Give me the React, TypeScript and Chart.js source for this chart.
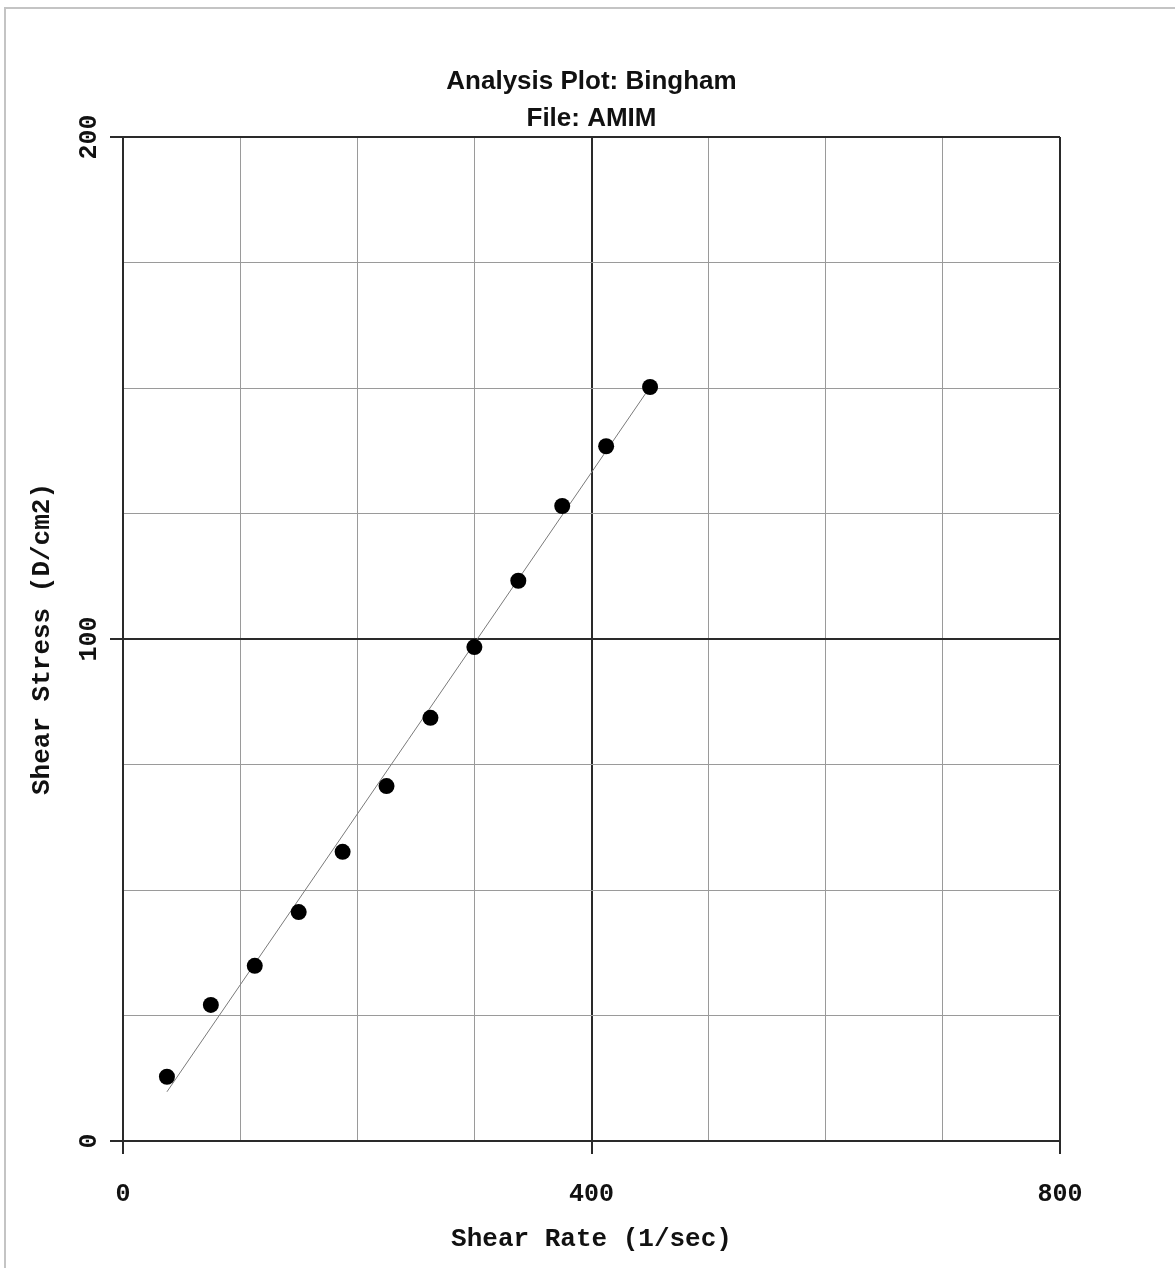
import React, { useEffect, useRef } from 'react';
import { Chart, registerables } from 'chart.js';

Chart.register(...registerables);

// ---- data ----
const shearRate = [37.5, 75, 112.5, 150, 187.5, 225, 262.5, 300, 337.5, 375, 412.5, 450];
const shearStress = [12.8, 27.1, 34.9, 45.6, 57.6, 70.7, 84.3, 98.4, 111.6, 126.5, 138.4, 150.2];
const fitRate = [37.5, 450];
const fitStress = [9.8, 150.2];
const xLabeled = [0, 400, 800];
const yLabeled = [0, 100, 200];
const titleLines = ['Analysis Plot: Bingham', 'File: AMIM'];
const xTitle = 'Shear Rate (1/sec)';
const yTitle = 'Shear Stress (D/cm2)';

const MAJOR = '#2a2a2a';
const MINOR = '#9a9a9a';
const MONO = '"Liberation Mono", "Courier New", monospace';
const SANS = '"Liberation Sans", Arial, sans-serif';

const titlePlugin = {
  id: 'fixedTitle',
  afterDraw(chart: any) {
    const { ctx, chartArea } = chart;
    ctx.save();
    ctx.fillStyle = '#111';
    ctx.font = `bold 26px ${SANS}`;
    ctx.textAlign = 'center';
    ctx.textBaseline = 'alphabetic';
    const cx = (chartArea.left + chartArea.right) / 2;
    ctx.fillText(titleLines[0], cx, 89);
    ctx.fillText(titleLines[1], cx, 126);
    ctx.restore();
  },
};

export default function App() {
  const ref = useRef<HTMLCanvasElement | null>(null);

  useEffect(() => {
    if (!ref.current) return;
    const isMajorX = (c: any) => c.tick && xLabeled.includes(c.tick.value);
    const isMajorY = (c: any) => c.tick && yLabeled.includes(c.tick.value);
    const chart = new Chart(ref.current, {
      type: 'scatter',
      data: {
        datasets: [
          {
            label: 'fit',
            data: fitRate.map((x, i) => ({ x, y: fitStress[i] })),
            showLine: true,
            borderColor: '#7a7a7a',
            borderWidth: 1,
            pointRadius: 0,
            order: 2,
          },
          {
            label: 'data',
            data: shearRate.map((x, i) => ({ x, y: shearStress[i] })),
            showLine: false,
            pointRadius: 8,
            pointBackgroundColor: '#000',
            pointBorderWidth: 0,
            order: 1,
          },
        ],
      },
      options: {
        responsive: false,
        animation: false,
        devicePixelRatio: 1,
        events: [],
        layout: { padding: { top: 137, right: 115, left: 0, bottom: 0 } },
        plugins: { legend: { display: false }, tooltip: { enabled: false }, title: { display: false } },
        scales: {
          x: {
            type: 'linear',
            min: 0,
            max: 800,
            afterFit: (s: any) => { s.height = 127; },
            ticks: {
              stepSize: 100,
              autoSkip: false,
              maxRotation: 0,
              padding: 26,
              color: '#111',
              font: { family: MONO, size: 25, weight: 'bold' },
              callback: (v: any) => (xLabeled.includes(v) ? String(v) : ''),
            },
            grid: {
              color: (c: any) => (isMajorX(c) ? MAJOR : MINOR),
              lineWidth: (c: any) => (isMajorX(c) ? 2 : 1),
              tickColor: (c: any) => (isMajorX(c) ? MAJOR : 'rgba(0,0,0,0)'),
              tickWidth: 2,
              tickLength: 13,
            },
            border: { display: true, color: MAJOR, width: 2 },
            title: {
              display: true,
              text: xTitle,
              color: '#111',
              font: { family: MONO, size: 26, weight: 'bold' },
              padding: { top: 0, bottom: 13 },
            },
          },
          y: {
            type: 'linear',
            min: 0,
            max: 200,
            afterFit: (s: any) => { s.width = 123; },
            ticks: {
              stepSize: 25,
              autoSkip: false,
              minRotation: 90,
              maxRotation: 90,
              crossAlign: 'center',
              padding: -2,
              color: '#111',
              font: { family: MONO, size: 25, weight: 'bold' },
              callback: (v: any) => (yLabeled.includes(v) ? String(v) : ''),
            },
            grid: {
              color: (c: any) => (isMajorY(c) ? MAJOR : MINOR),
              lineWidth: (c: any) => (isMajorY(c) ? 2 : 1),
              tickColor: (c: any) => (isMajorY(c) ? MAJOR : 'rgba(0,0,0,0)'),
              tickWidth: 2,
              tickLength: 13,
            },
            border: { display: true, color: MAJOR, width: 2 },
            title: {
              display: true,
              text: yTitle,
              color: '#111',
              font: { family: MONO, size: 26, weight: 'bold' },
              padding: { top: 27, bottom: 0 },
            },
          },
        },
      },
      plugins: [titlePlugin],
    } as any);
    return () => chart.destroy();
  }, []);

  return (
    <div style={{ position: 'absolute', left: 0, top: 0, width: 1175, height: 1268, overflow: 'hidden', background: '#fff' }}>
      <div
        style={{
          position: 'absolute',
          left: 4,
          top: 7,
          width: 1171,
          height: 1261,
          borderTop: '2px solid #c4c4c4',
          borderLeft: '2px solid #c4c4c4',
          boxSizing: 'border-box',
        }}
      />
      <canvas ref={ref} width={1175} height={1268} style={{ position: 'absolute', left: 0, top: 0, display: 'block' }} />
    </div>
  );
}
